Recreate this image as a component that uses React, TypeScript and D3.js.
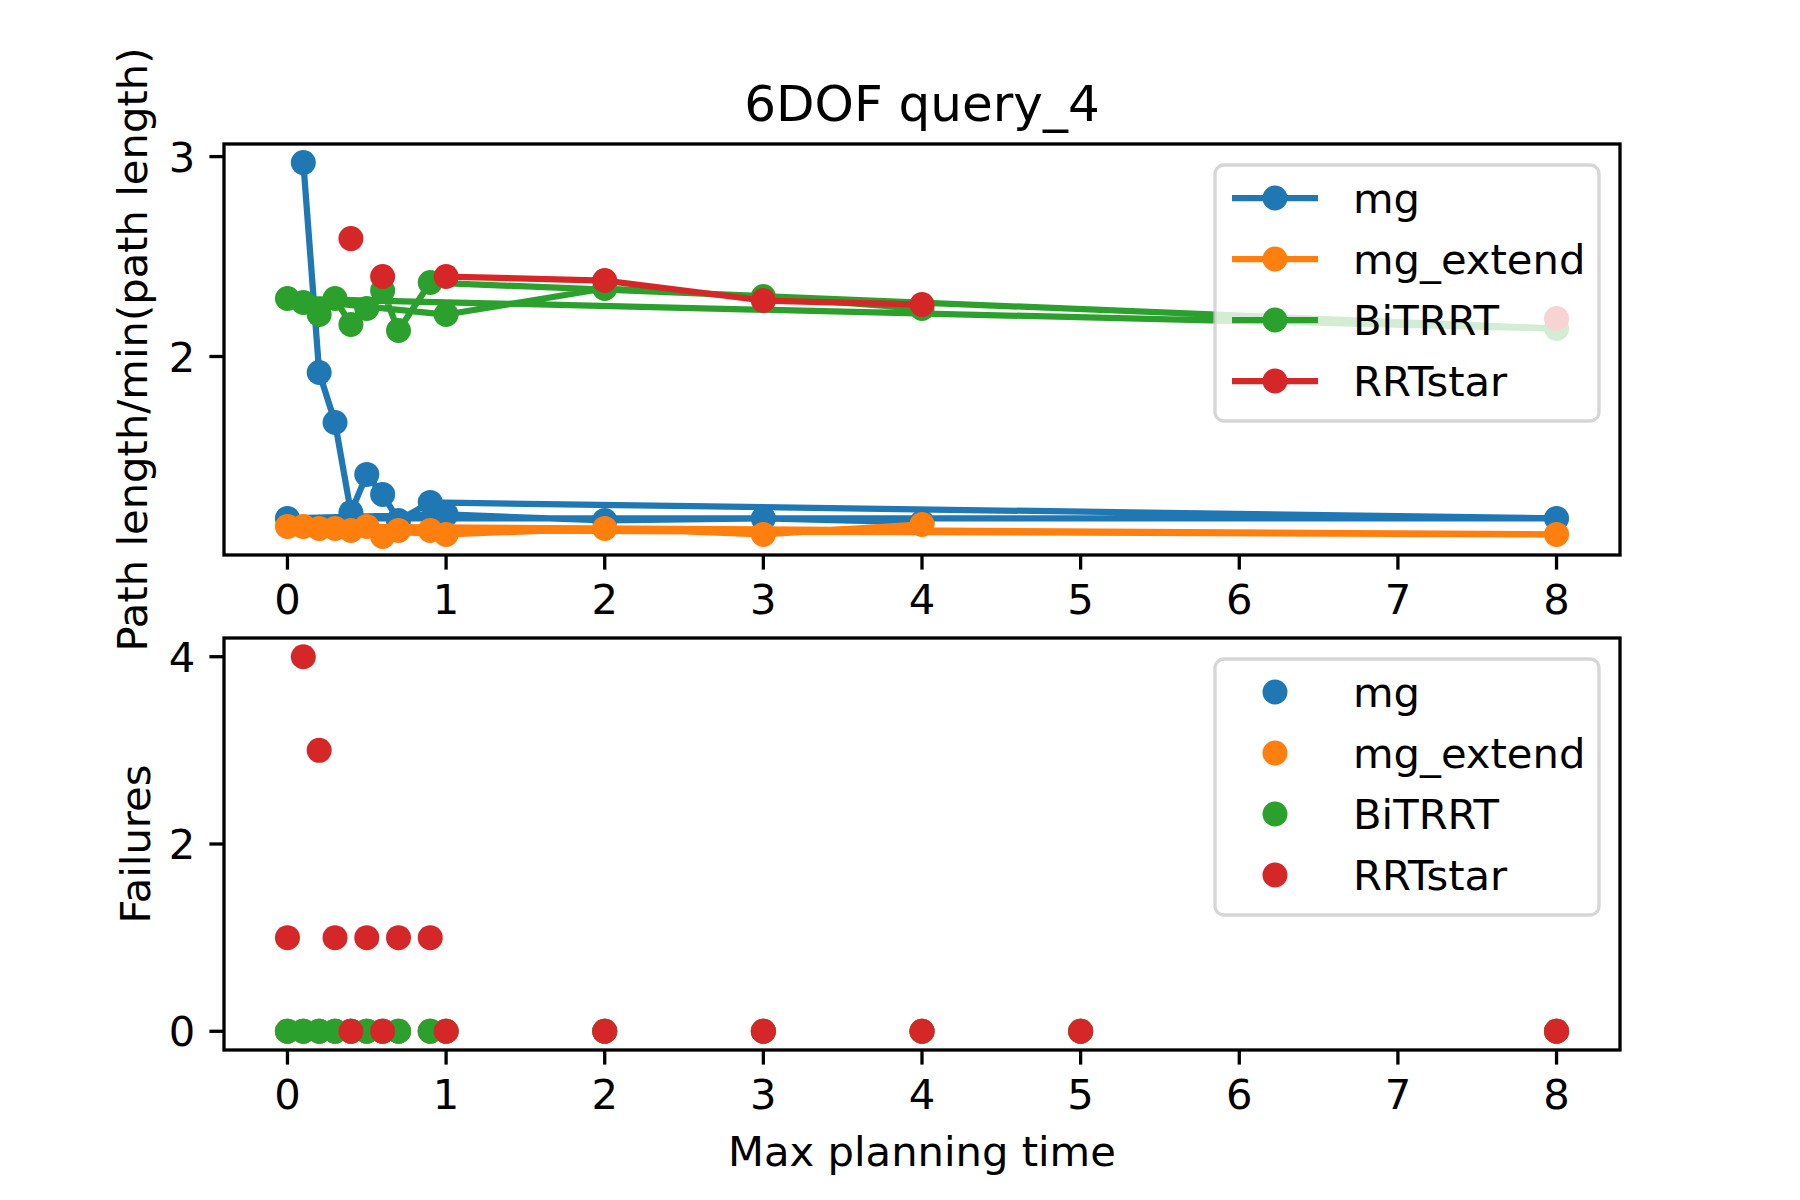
import React from "react";
import * as d3 from "d3";

// x values in the order the runs were recorded (top plot)
const timesTop = [0.1, 0.2, 0.3, 0.4, 0.5, 0.6, 0.7, 0.9, 8, 0, 1, 2, 3, 4];
const mgLen = [2.97, 1.92, 1.67, 1.22, 1.41, 1.31, 1.18, 1.27, 1.19, 1.19, 1.21, 1.18, 1.19, 1.17];
const mgExtLen = [1.15, 1.14, 1.14, 1.13, 1.15, 1.1, 1.13, 1.13, 1.11, 1.15, 1.11, 1.14, 1.11, 1.16];
const bitrrtLen = [2.27, 2.21, 2.29, 2.16, 2.24, 2.33, 2.13, 2.37, 2.14, 2.29, 2.21, 2.34, 2.3, 2.24];
const rrtLen: (number | null)[] = [null, null, null, 2.59, null, 2.4, null, null, 2.19, null, 2.4, 2.38, 2.28, 2.26];

const timesBot = [0, 0.1, 0.2, 0.3, 0.4, 0.5, 0.6, 0.7, 0.9, 1, 2, 3, 4, 5, 8];
const mgFail = [0, 0, 0, 0, 0, 0, 0, 0, 0, 0, 0, 0, 0, 0, 0];
const mgExtFail = [0, 0, 0, 0, 0, 0, 0, 0, 0, 0, 0, 0, 0, 0, 0];
const bitrrtFail = [0, 0, 0, 0, 0, 0, 0, 0, 0, 0, 0, 0, 0, 0, 0];
const rrtFail = [1, 4, 3, 1, 0, 1, 0, 1, 1, 0, 0, 0, 0, 0, 0];

const names = ["mg", "mg_extend", "BiTRRT", "RRTstar"];
const colors = ["#1f77b4", "#ff7f0e", "#2ca02c", "#d62728"];
const xTicks = [0, 1, 2, 3, 4, 5, 6, 7, 8];
const yTicksTop = [2, 3];
const yTicksBot = [0, 2, 4];

const FONT = "DejaVu Sans";
const FS = 41.7;
const L = 224, R = 1620;
const TOP = [144, 555];
const BOT = [638, 1050];
const TICK = 14.6, SW = 3.3, LW = 6.25, MR = 12.5;

const x = d3.scaleLinear().domain([-0.4, 8.4]).range([L, R]);
const yT = d3.scaleLinear().domain([1.007, 3.063]).range([TOP[1], TOP[0]]);
const yB = d3.scaleLinear().domain([-0.2, 4.2]).range([BOT[1], BOT[0]]);

function Axes({ y, box, yTicks }: any) {
  return (
    <g>
      <rect x={L} y={box[0]} width={R - L} height={box[1] - box[0]} fill="none" stroke="#000" strokeWidth={SW} />
      {xTicks.map((t) => (
        <g key={"x" + t}>
          <line x1={x(t)} x2={x(t)} y1={box[1]} y2={box[1] + TICK} stroke="#000" strokeWidth={SW} />
          <text x={x(t)} y={box[1] + TICK + 14 + FS * 0.73} textAnchor="middle" fontFamily={FONT} fontSize={FS}>{t}</text>
        </g>
      ))}
      {yTicks.map((t: number) => (
        <g key={"y" + t}>
          <line x1={L - TICK} x2={L} y1={y(t)} y2={y(t)} stroke="#000" strokeWidth={SW} />
          <text x={L - TICK - 14} y={y(t) + FS * 0.36} textAnchor="end" fontFamily={FONT} fontSize={FS}>{t}</text>
        </g>
      ))}
    </g>
  );
}

function Legend({ top, withLine }: any) {
  const left = 1215, right = 1599;
  const rowY = [33, 94, 155, 216];
  return (
    <g>
      <rect x={left} y={top} width={right - left} height={256} rx={9} fill="#fff" fillOpacity={0.8} stroke="#ccc" strokeOpacity={0.8} strokeWidth={3.3} />
      {names.map((n, i) => (
        <g key={n}>
          {withLine && <line x1={1232} x2={1318} y1={top + rowY[i]} y2={top + rowY[i]} stroke={colors[i]} strokeWidth={LW} />}
          <circle cx={1275} cy={top + rowY[i]} r={MR} fill={colors[i]} />
          <text x={1353} y={top + rowY[i] + FS * 0.36} fontFamily={FONT} fontSize={FS}>{n}</text>
        </g>
      ))}
    </g>
  );
}

export default function App() {
  const topSeries = [mgLen, mgExtLen, bitrrtLen, rrtLen];
  const botSeries = [mgFail, mgExtFail, bitrrtFail, rrtFail];
  const line = d3
    .line<number | null>()
    .defined((d) => d != null)
    .x((_, i) => x(timesTop[i]))
    .y((d) => yT(d as number));
  return (
    <svg width={1800} height={1200} style={{ position: "absolute", left: 0, top: 0, background: "#fff" }}>
      <rect width={1800} height={1200} fill="#fff" />
      <text x={(L + R) / 2} y={121} textAnchor="middle" fontFamily={FONT} fontSize={50}>6DOF query_4</text>
      <clipPath id="ct"><rect x={L} y={TOP[0]} width={R - L} height={TOP[1] - TOP[0]} /></clipPath>
      <g clipPath="url(#ct)">
        {topSeries.map((s, k) => (
          <g key={k}>
            <path d={line(s) || ""} fill="none" stroke={colors[k]} strokeWidth={LW} strokeLinejoin="round" />
            {s.map((v, i) => v == null ? null : <circle key={i} cx={x(timesTop[i])} cy={yT(v)} r={MR} fill={colors[k]} />)}
          </g>
        ))}
      </g>
      <Axes y={yT} box={TOP} yTicks={yTicksTop} />
      <Legend top={165} withLine={true} />
      {botSeries.map((s, k) => (
        <g key={k}>
          {s.map((v, i) => <circle key={i} cx={x(timesBot[i])} cy={yB(v)} r={MR} fill={colors[k]} />)}
        </g>
      ))}
      <Axes y={yB} box={BOT} yTicks={yTicksBot} />
      <Legend top={659} withLine={false} />
      <text transform={`translate(147,${(TOP[0] + TOP[1]) / 2}) rotate(-90)`} textAnchor="middle" fontFamily={FONT} fontSize={FS}>Path length/min(path length)</text>
      <text transform={`translate(150,${(BOT[0] + BOT[1]) / 2}) rotate(-90)`} textAnchor="middle" fontFamily={FONT} fontSize={FS}>Failures</text>
      <text x={(L + R) / 2} y={1166} textAnchor="middle" fontFamily={FONT} fontSize={FS}>Max planning time</text>
    </svg>
  );
}
